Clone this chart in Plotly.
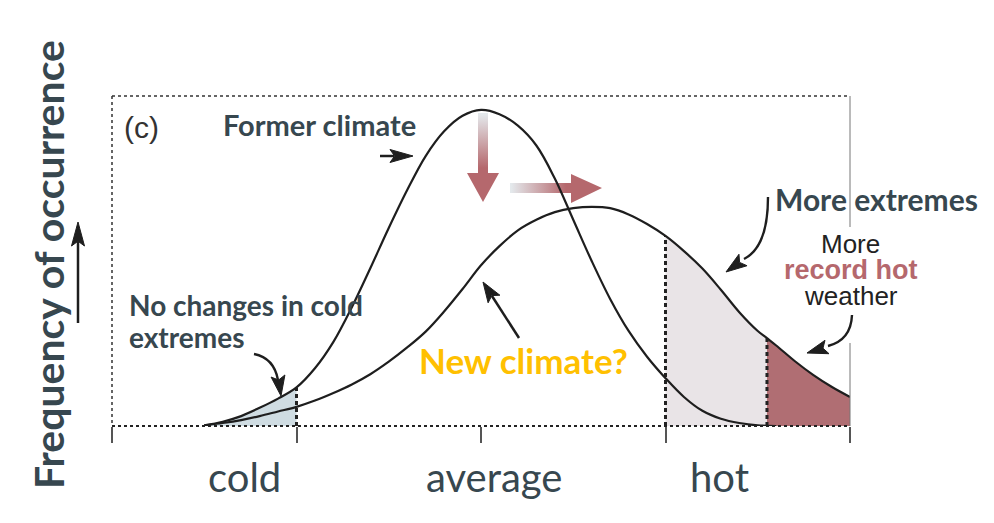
import plotly.graph_objects as go

# ---------------- data ----------------
x_former = [0.5, 0.6, 0.7, 0.8, 0.9, 1.0, 1.1, 1.2, 1.3, 1.4, 1.5, 1.6, 1.7, 1.8, 1.9, 2.0,
            2.1, 2.2, 2.3, 2.4, 2.5, 2.6, 2.7, 2.8, 2.9, 3.0, 3.1, 3.2, 3.3, 3.4, 3.5, 3.6]
y_former = [0.002, 0.013, 0.030, 0.055, 0.083, 0.117, 0.175, 0.255, 0.360, 0.478, 0.600, 0.715,
            0.818, 0.893, 0.940, 0.958, 0.945, 0.910, 0.850, 0.750, 0.625, 0.500, 0.385, 0.288,
            0.210, 0.145, 0.088, 0.046, 0.022, 0.009, 0.002, 0.000]

x_new = [0.5, 0.6, 0.7, 0.8, 0.9, 1.0, 1.1, 1.2, 1.3, 1.4, 1.5, 1.6, 1.7, 1.8, 1.9, 2.0,
         2.1, 2.2, 2.3, 2.4, 2.5, 2.6, 2.7, 2.8, 2.9, 3.0, 3.1, 3.2, 3.3, 3.4, 3.5, 3.55,
         3.6, 3.7, 3.8, 3.9, 4.0]
y_new = [0.002, 0.009, 0.018, 0.030, 0.044, 0.058, 0.077, 0.100, 0.126, 0.157, 0.195, 0.238,
         0.286, 0.347, 0.415, 0.487, 0.545, 0.593, 0.625, 0.648, 0.660, 0.664, 0.660, 0.641,
         0.612, 0.576, 0.530, 0.477, 0.413, 0.345, 0.288, 0.266, 0.244, 0.197, 0.155, 0.119,
         0.088]

cold_limit = 1.0
hot_limit = 3.0
record_limit = 3.55

tick_values = [0, 1, 2, 3, 4]
category_labels = ["cold", "average", "hot"]
category_pos = [0.72, 2.07, 3.29]

# ---------------- styles ----------------
SLATE = "#37474f"
GOLD = "#ffc000"
ROSE = "#b5686d"
RECORD_FILL = "#b06e73"
HOT_FILL = "#e9e4e7"
COLD_FILL = "#cfdce2"
LIGHT = "#e4e9ec"
INK = "#1e1e1e"
CAL = "Lato"
ARIAL = "Liberation Sans"

W, H = 994, 523
OFF = 8                        # page body margin of the browser
L, R, T, B = 112, 850, 96, 426  # plot area in window pixels


def px(x):
    return (x - L) / (R - L)


def py(y):
    return (B - y) / (B - T)


def dx(x):
    return 4 * px(x)


def dy(y):
    return py(y)


fig = go.Figure()

# ---------------- shaded regions ----------------
cold = [(x, y) for x, y in zip(x_former, y_former) if x <= cold_limit]
hot = [(x, y) for x, y in zip(x_new, y_new) if hot_limit <= x <= record_limit]
rec = [(x, y) for x, y in zip(x_new, y_new) if x >= record_limit]
for pts, col in [(cold, COLD_FILL), (hot, HOT_FILL), (rec, RECORD_FILL)]:
    fig.add_trace(go.Scatter(x=[p[0] for p in pts], y=[p[1] for p in pts], mode="lines",
                             line=dict(width=0, shape="spline"), fill="tozeroy", fillcolor=col,
                             hoverinfo="skip", showlegend=False))

# dashed limit lines
for lim, xs, ys in [(cold_limit, x_former, y_former), (hot_limit, x_new, y_new),
                    (record_limit, x_new, y_new)]:
    top = ys[xs.index(lim)]
    fig.add_trace(go.Scatter(x=[lim, lim], y=[0, top], mode="lines",
                             line=dict(color="#222222", width=3, dash="4px,3px"),
                             hoverinfo="skip", showlegend=False))

# ---------------- gradient arrows ----------------
down = [(478, 113), (488, 113), (488, 173), (499, 173), (483, 202), (467, 173), (478, 173), (478, 113)]
fig.add_trace(go.Scatter(x=[dx(a) for a, b in down], y=[dy(b) for a, b in down], mode="lines",
                         line=dict(width=0), fill="toself",
                         fillgradient=dict(type="vertical", colorscale=[[0, ROSE], [1, LIGHT]],
                                           start=dy(168), stop=dy(114)),
                         hoverinfo="skip", showlegend=False))
right = [(510, 183), (571, 183), (571, 174), (602, 188), (571, 203), (571, 193), (510, 193), (510, 183)]
fig.add_trace(go.Scatter(x=[dx(a) for a, b in right], y=[dy(b) for a, b in right], mode="lines",
                         line=dict(width=0), fill="toself",
                         fillgradient=dict(type="horizontal", colorscale=[[0, LIGHT], [1, ROSE]],
                                           start=dx(511), stop=dx(566)),
                         hoverinfo="skip", showlegend=False))

# ---------------- curves ----------------
fig.add_trace(go.Scatter(x=x_former, y=y_former, mode="lines",
                         line=dict(color=INK, width=2.2, shape="spline", smoothing=1),
                         hoverinfo="skip", showlegend=False))
fig.add_trace(go.Scatter(x=x_new, y=y_new, mode="lines",
                         line=dict(color=INK, width=2.2, shape="spline", smoothing=1),
                         hoverinfo="skip", showlegend=False))

shapes = []


def seg(x0, y0, x1, y1, color, width, dash="solid"):
    shapes.append(dict(type="line", xref="paper", yref="paper", x0=px(x0), y0=py(y0),
                       x1=px(x1), y1=py(y1), line=dict(color=color, width=width, dash=dash)))


def head(tip, back, half, color=INK):
    tx, ty = tip
    bx, by = back
    vx, vy = tx - bx, ty - by
    n = (vx * vx + vy * vy) ** 0.5
    ux, uy = vx / n, vy / n
    nx, ny = -uy, ux
    p1 = (bx + nx * half, by + ny * half)
    p2 = (bx - nx * half, by - ny * half)
    notch = (bx + ux * n * 0.2, by + uy * n * 0.2)
    pts = [tip, p1, notch, p2]
    path = "M " + " L ".join(f"{px(a):.5f},{py(b):.5f}" for a, b in pts) + " Z"
    shapes.append(dict(type="path", xref="paper", yref="paper", path=path,
                       fillcolor=color, line=dict(color=color, width=1)))


def curve(p0, c, p1, color=INK, width=2.4):
    path = (f"M {px(p0[0]):.5f},{py(p0[1]):.5f} Q {px(c[0]):.5f},{py(c[1]):.5f} "
            f"{px(p1[0]):.5f},{py(p1[1]):.5f}")
    shapes.append(dict(type="path", xref="paper", yref="paper", path=path,
                       line=dict(color=color, width=width)))


# frame
seg(L, T, R, T, "#333333", 1.5, "dot")
seg(L, T, L, B, "#333333", 1.5, "dot")
seg(L, B, R, B, "#222222", 2, "dot")
seg(R, T, R, 227, "#777777", 1)
seg(R, 343, R, B, "#777777", 1)

# straight arrows
seg(380, 156, 394, 156, INK, 2.5)
head((413, 156), (390, 156), 6.5)
seg(519, 338, 492, 296, INK, 2.5)
head((483, 282), (494, 299), 7)
seg(78, 323, 78, 242, INK, 2.5)
head((78, 222), (78, 246), 6.5)

# curved arrows
curve((254, 354), (274, 358), (278, 380))
head((281, 396), (278, 376), 7)
curve((768, 197), (768, 247), (744, 259))
head((726, 272), (743, 260), 7)
curve((852, 315), (851, 340), (828, 346))
head((807, 353), (827, 347), 7)

annotations = []


def text(s, x, y, size, color, family, bold=False, xanchor="center", angle=0):
    annotations.append(dict(text=f"<b>{s}</b>" if bold else s, x=px(x), y=py(y), xref="paper",
                            yref="paper", showarrow=False, xanchor=xanchor, yanchor="middle",
                            textangle=angle, font=dict(size=size, color=color, family=family)))


text("(c)", 141, 127, 30, "#333333", ARIAL)
text("Former climate", 319, 124, 29, SLATE, CAL, True)
text("More extremes", 876, 199, 30, SLATE, CAL, True)
text("More", 850, 244, 26, "#222222", ARIAL)
text("record hot", 851, 270, 27, ROSE, ARIAL, True)
text("weather", 851, 296, 26, "#222222", ARIAL)
text("No changes in cold", 127, 305, 28, SLATE, CAL, True, xanchor="left")
text("extremes", 127, 337, 28, SLATE, CAL, True, xanchor="left")
text("New climate?", 523, 360, 35, GOLD, CAL, True)
text("Frequency of occurrence", 48, 265, 41, SLATE, CAL, True, angle=-90)
for lab, pos in zip(category_labels, category_pos):
    annotations.append(dict(text=lab, x=pos, y=py(477), xref="x", yref="paper", showarrow=False,
                            xanchor="center", yanchor="middle",
                            font=dict(size=40, color=SLATE, family=CAL)))

fig.update_layout(
    width=W - OFF, height=H - OFF,
    margin=dict(l=L - OFF, r=W - R, t=T - OFF, b=H - B, pad=0),
    paper_bgcolor="white", plot_bgcolor="white",
    shapes=shapes, annotations=annotations,
    xaxis=dict(range=[0, 4], tickvals=tick_values, showticklabels=False, ticks="outside",
               ticklen=16, tickwidth=1.5, tickcolor="#555555", showgrid=False, zeroline=False,
               showline=False, fixedrange=True),
    yaxis=dict(range=[0, 1], showticklabels=False, ticks="", showgrid=False, zeroline=False,
               showline=False, fixedrange=True),
    showlegend=False,
)

fig.write_html("out.html")
